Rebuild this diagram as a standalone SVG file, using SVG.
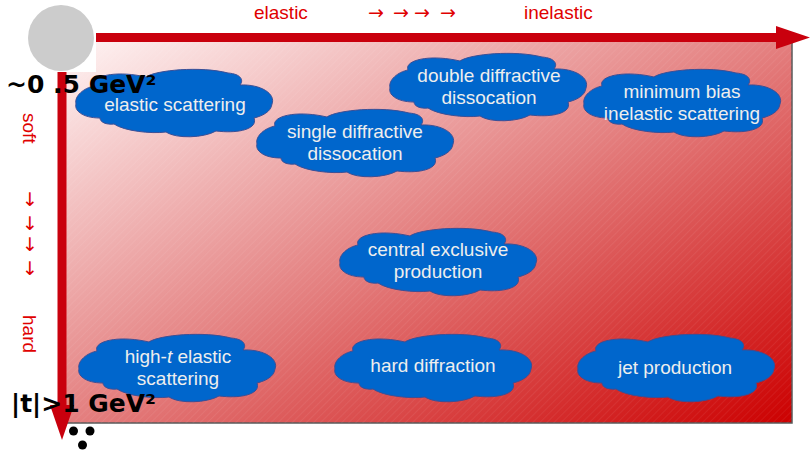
<svg xmlns="http://www.w3.org/2000/svg" xmlns:xlink="http://www.w3.org/1999/xlink" width="811" height="450" viewBox="0 0 811 450">
<style>
.lbl{font-family:"Liberation Sans",Arial,sans-serif;font-size:19px;fill:#e00000}
.arr{font-family:"DejaVu Sans",sans-serif;font-size:19px;fill:#e00000;text-anchor:middle}
.ct{font-family:"Liberation Sans",Arial,sans-serif;font-size:19px;fill:#eeeeee;text-anchor:middle}
.big{font-family:"DejaVu Sans",sans-serif;font-weight:bold;font-size:25px;fill:#000}
.cloud{fill:#0066cc;stroke:#3b4f96;stroke-width:1}
.axis{fill:#c9000d}
</style>
<defs>
<linearGradient id="bg" x1="0" y1="0" x2="1" y2="1">
<stop offset="0" stop-color="#fff6f6"/>
<stop offset="0.5" stop-color="#e48080"/>
<stop offset="1" stop-color="#cc0000"/>
</linearGradient>
<pattern id="hatch" width="5" height="5" patternUnits="userSpaceOnUse" patternTransform="rotate(45)">
<line x1="0" y1="0" x2="0" y2="5" stroke="#ffffff" stroke-opacity="0.08" stroke-width="1.5"/>
</pattern>
<path id="cloud" d="M0,36 C-2,28 8,20 18,18 C14,8 40,2 70,9 C80,2 125,-2 152,5 C165,6 168,12 164,17 C185,16 200,26 196,36 C195,44 186,48 178,50 C182,60 165,66 140,63 C128,70 100,71 90,64 C75,66 48,63 38,56 C30,57 24,54 24,50 C6,50 -2,42 0,36 Z"/>
</defs>
<rect width="811" height="450" fill="#ffffff"/>
<g id="background">
<rect x="62" y="36" width="730" height="387" fill="url(#bg)" stroke="#5a5a5a" stroke-width="1.5"/>
<rect x="62" y="36" width="730" height="387" fill="url(#hatch)"/>
<rect x="28" y="4" width="68" height="68" fill="#ffffff"/>
<circle cx="61" cy="38" r="33" fill="#cccccc"/>
</g>
<g id="axes">
<rect x="96" y="33" width="682" height="9" class="axis"/>
<polygon points="776,26 810,37.5 776,49" class="axis"/>
<rect x="57.5" y="72" width="9" height="336" class="axis"/>
<polygon points="50,405 74,405 62,440" class="axis"/>
</g>
<g id="axis-labels">
<text x="254" y="19" class="lbl">elastic</text>
<text x="376" y="19" class="arr">→</text>
<text x="401" y="19" class="arr">→</text>
<text x="422" y="19" class="arr">→</text>
<text x="448" y="19" class="arr">→</text>
<text x="524" y="19" class="lbl">inelastic</text>
<text transform="translate(23,113) rotate(90)" class="lbl">soft</text>
<text transform="translate(23,315) rotate(90)" class="lbl">hard</text>
<text x="30" y="206" class="arr">↓</text>
<text x="30" y="230" class="arr">↓</text>
<text x="30" y="251" class="arr">↓</text>
<text x="30" y="275" class="arr">↓</text>
</g>
<g id="node-elastic">
<use xlink:href="#cloud" x="76" y="68" class="cloud"/>
<text x="175" y="111" class="ct">elastic scattering</text>
</g>
<g id="node-single">
<use xlink:href="#cloud" x="257" y="108" class="cloud"/>
<text x="355" y="138" class="ct">single diffractive</text>
<text x="355" y="160" class="ct">dissocation</text>
</g>
<g id="node-double">
<use xlink:href="#cloud" x="390" y="52" class="cloud"/>
<text x="489" y="82" class="ct">double diffractive</text>
<text x="489" y="104" class="ct">dissocation</text>
</g>
<g id="node-minbias">
<use xlink:href="#cloud" x="584" y="68" class="cloud"/>
<text x="682" y="98" class="ct">minimum bias</text>
<text x="682" y="120" class="ct">inelastic scattering</text>
</g>
<g id="node-central">
<use xlink:href="#cloud" x="340" y="227" class="cloud"/>
<text x="438" y="256" class="ct">central exclusive</text>
<text x="438" y="278" class="ct">production</text>
</g>
<g id="node-hardiff">
<use xlink:href="#cloud" x="335" y="333" class="cloud"/>
<text x="433" y="372" class="ct">hard diffraction</text>
</g>
<g id="node-jet">
<use xlink:href="#cloud" x="578" y="333" class="cloud"/>
<text x="675" y="374" class="ct">jet production</text>
</g>
<g id="node-hight">
<use xlink:href="#cloud" x="79" y="333" class="cloud"/>
<text x="178" y="363" class="ct">high-<tspan font-style="italic">t</tspan> elastic</text>
<text x="178" y="385" class="ct">scattering</text>
</g>
<g id="scale-labels">
<text x="6" y="93" class="big">~0 .5 GeV²</text>
<text x="11" y="412" class="big">|t|&gt;1 GeV²</text>
<circle cx="73.5" cy="431" r="4.5" fill="#000"/>
<circle cx="90" cy="431" r="4.5" fill="#000"/>
<circle cx="82.5" cy="445" r="4.5" fill="#000"/>
</g>
</svg>
